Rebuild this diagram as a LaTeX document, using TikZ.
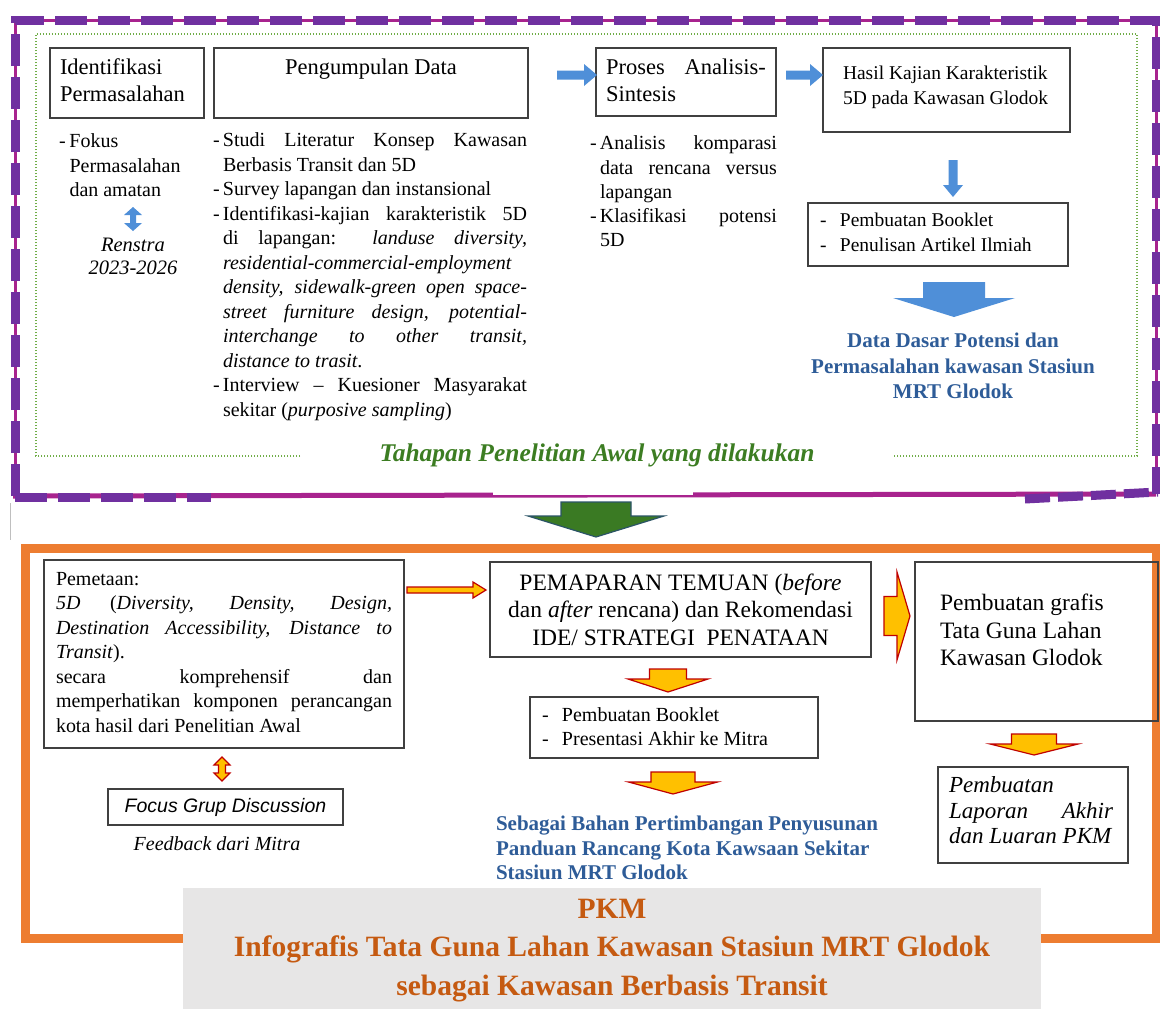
\documentclass[tikz,border=0pt]{standalone}
\usepackage{fontspec}
\setmainfont{Liberation Serif}
\setsansfont{Liberation Sans}
\definecolor{purp}{HTML}{7030A0}
\definecolor{magn}{HTML}{A8238E}
\definecolor{grn}{HTML}{70AD47}
\definecolor{ttl}{HTML}{3C7D22}
\definecolor{barr}{HTML}{4F8FD8}
\definecolor{btxt}{HTML}{2E5C98}
\definecolor{garr}{HTML}{3A7A23}
\definecolor{garrb}{HTML}{2B5466}
\definecolor{yel}{HTML}{FFC000}
\definecolor{redb}{HTML}{C00000}
\definecolor{orf}{HTML}{ED7D31}
\definecolor{gbox}{HTML}{E7E6E6}
\definecolor{otxt}{HTML}{C55A11}
\definecolor{bord}{HTML}{404040}
\newlength\hng
\newcommand\FS[2]{\fontsize{#1}{#2}\selectfont}
\newcommand\NS{\spaceskip=0pt\xspaceskip=0pt\relax}
\newcommand\LDJ[1]{\makebox[\hng][l]{-}\makebox[\dimexpr\hsize-\hng\relax][s]{\NS #1}}
\newcommand\LDL[1]{\makebox[\hng][l]{-}#1}
\newcommand\LIJ[1]{\hspace*{\hng}\makebox[\dimexpr\hsize-\hng\relax][s]{\NS #1}}
\newcommand\LIL[1]{\hspace*{\hng}#1}
\newcommand\LJ[1]{\makebox[\hsize][s]{\NS #1}}
% block arrows: style, x1, x2, yc, shaft half, head half, head length
\newcommand\ArrR[7]{\filldraw[#1] ({#2},{#4-#5}) -- ({#3-#7},{#4-#5}) -- ({#3-#7},{#4-#6}) -- ({#3},{#4}) -- ({#3-#7},{#4+#6}) -- ({#3-#7},{#4+#5}) -- ({#2},{#4+#5}) -- cycle;}
% style, xc, y1, y2, shaft half, head half, head length
\newcommand\ArrD[7]{\filldraw[#1] ({#2-#5},{#3}) -- ({#2+#5},{#3}) -- ({#2+#5},{#4-#7}) -- ({#2+#6},{#4-#7}) -- ({#2},{#4}) -- ({#2-#6},{#4-#7}) -- ({#2-#5},{#4-#7}) -- cycle;}
\newcommand\ArrUD[7]{\filldraw[#1] ({#2},{#3}) -- ({#2+#6},{#3+#7}) -- ({#2+#5},{#3+#7}) -- ({#2+#5},{#4-#7}) -- ({#2+#6},{#4-#7}) -- ({#2},{#4}) -- ({#2-#6},{#4-#7}) -- ({#2-#5},{#4-#7}) -- ({#2-#5},{#3+#7}) -- ({#2-#6},{#3+#7}) -- cycle;}
\begin{document}
\begin{tikzpicture}[x=1pt,y=-1pt,
  every node/.style={inner sep=0pt, outer sep=0pt, execute at begin node=\NS},
  box/.style={draw=bord, line width=1.3pt},
  txt/.style={anchor=north west, align=left},
  barrow/.style={fill=barr, draw=none},
  yarrow/.style={fill=yel, draw=redb, line width=1.2pt},
  garrow/.style={fill=garr, draw=garrb, line width=1.2pt}]
\useasboundingbox (0,0) rectangle (1160,1009);
\fill[white] (0,0) rectangle (1160,1009);

% ---------- top frame ----------
\draw[magn, line width=3] (15,20) -- (1156,20) -- (1156,494);
\draw[magn, line width=3] (15,20) -- (15,496);
\draw[magn, line width=5] (13,496) -- (1156,494);
\draw[purp, line width=9, dash pattern=on 32 off 11] (15,496) -- (15,20) -- (1156,20) -- (1156,494);
\draw[purp, line width=9, dash pattern=on 32 off 11] (15,497) -- (211,497);
\draw[purp, line width=9, dash pattern=on 25 off 8] (1025,499) -- (1158,492);
\fill[white] (493,481) rectangle (693,495);
\draw[gray!50, line width=1] (10,503) -- (10,540);

\draw[grn, line width=1.3, dash pattern=on 1.3 off 1.7] (300,456) -- (36,456) -- (36,34) -- (1137,34) -- (1137,456) -- (893,456);
\node[font=\FS{25.5}{30}\bfseries\itshape, text=ttl] (title) at (597,455) {Tahapan Penelitian Awal yang dilakukan};

% boxes top
\node[box, minimum width=154, minimum height=70] (b1) at (127,83) {};
\node[box, minimum width=314, minimum height=70] (b2) at (371,83) {};
\node[box, minimum width=180, minimum height=68] (b3) at (686,82) {};
\node[box, minimum width=247, minimum height=84] (b4) at (946.5,90) {};
\node[box, minimum width=260, minimum height=63] (b5) at (938,234.5) {};

\node[txt, font=\FS{22.5}{27}] (t1) at (60,59) {Identifikasi\\Permasalahan};
\node[anchor=north, font=\FS{22.5}{27}] (t2) at (371,59) {Pengumpulan Data};
\node[txt, text width=160, font=\FS{22.5}{27}] (t3) at (606,59) {\LJ{Proses Analisis-}\\Sintesis};
\node[txt, font=\FS{19.5}{25}] (t4) at (843,66) {Hasil Kajian Karakteristik\\5D pada Kawasan Glodok};
\node[txt, font=\FS{19.5}{25}] (t5) at (820,213) {\makebox[20pt][l]{-}Pembuatan Booklet\\\makebox[20pt][l]{-}Penulisan Artikel Ilmiah};

\node[txt, text width=140, font=\FS{20}{24.5}] (fokus) at (59,134) {\setlength\hng{10.5pt}\LDL{Fokus}\\\LIL{Permasalahan}\\\LIL{dan amatan}};
\node[anchor=north, align=center, font=\FS{20.5}{23.5}\itshape] (renstra) at (133,238) {Renstra\\2023-2026};

\node[txt, text width=314, font=\FS{20}{24.5}] (mid) at (213,133) {\setlength\hng{10pt}%
\LDJ{Studi Literatur Konsep Kawasan}\\
\LIL{Berbasis Transit dan 5D}\\
\LDL{Survey lapangan dan instansional}\\
\LDJ{Identifikasi-kajian karakteristik 5D}\\
\LIJ{di lapangan: \textit{landuse diversity,}}\\
\LIJ{\textit{residential-commercial-employment}}\\
\LIJ{\textit{density, sidewalk-green open space-}}\\
\LIJ{\textit{street furniture design, potential-}}\\
\LIJ{\textit{interchange to other transit,}}\\
\LIL{\textit{distance to trasit}.}\\
\LDJ{Interview – Kuesioner Masyarakat}\\
\LIL{sekitar (\textit{purposive sampling})}};

\node[txt, text width=187, font=\FS{20}{24.25}] (rt) at (590,136) {\setlength\hng{10pt}%
\LDJ{Analisis komparasi}\\
\LIJ{data rencana versus}\\
\LIL{lapangan}\\
\LDJ{Klasifikasi potensi}\\
\LIL{5D}};

\node[anchor=north, align=center, font=\FS{21}{25.5}\bfseries, text=btxt] (dd) at (953,333) {Data Dasar Potensi dan\\Permasalahan kawasan Stasiun\\MRT Glodok};

% blue arrows
\ArrR{barrow}{557}{597}{75}{4.5}{11}{13}
\ArrR{barrow}{786}{823}{75}{4.5}{11}{13}
\ArrD{barrow}{953}{160}{197}{4.5}{10}{12}
\ArrUD{barrow}{133}{207}{231}{3}{9}{8}
\ArrD{barrow}{954}{282}{317}{31}{61}{19}

% green arrow
\ArrD{garrow}{596}{502}{537}{35}{68}{21}

% ---------- bottom frame ----------
\draw[orf, line width=9] (25,548) rectangle (1156,938);

\node[box, minimum width=360, minimum height=188] (p1) at (224,654) {};
\node[box, minimum width=381, minimum height=95, align=center, font=\FS{23.5}{27.5}] (p2) at (680.5,609.5) {PEMAPARAN TEMUAN (\textit{before}\\dan \textit{after} rencana) dan Rekomendasi\\IDE/ STRATEGI~~PENATAAN};
\node[box, minimum width=243, minimum height=159] (p3) at (1036.5,641.5) {};
\node[box, minimum width=288, minimum height=61] (p4) at (674,727.5) {};
\node[box, minimum width=190, minimum height=96] (p5) at (1033,815) {};
\node[box, minimum width=235, minimum height=36, font=\FS{19.5}{23}\sffamily\itshape] (p6) at (225.5,807) {Focus Grup Discussion};

\node[txt, text width=336, font=\FS{20}{24.5}] (pem) at (56,572) {%
Pemetaan:\\
\LJ{\textit{5D} (\textit{Diversity, Density, Design,}}\\
\LJ{\textit{Destination Accessibility, Distance to}}\\
\textit{Transit}).\\
\LJ{secara komprehensif dan}\\
\LJ{memperhatikan komponen perancangan}\\
kota hasil dari Penelitian Awal};

\node[txt, font=\FS{23.5}{27.5}] (graf) at (940,594) {Pembuatan grafis\\Tata Guna Lahan\\Kawasan Glodok};
\node[txt, font=\FS{20}{23.5}] (bk2) at (542,708) {\makebox[20pt][l]{-}Pembuatan Booklet\\\makebox[20pt][l]{-}Presentasi Akhir ke Mitra};
\node[txt, font=\FS{21}{24.5}\bfseries, text=btxt] (seb) at (496,816) {Sebagai Bahan Pertimbangan Penyusunan\\Panduan Rancang Kota Kawsaan Sekitar\\Stasiun MRT Glodok};
\node[txt, text width=170, font=\FS{23}{25.5}\itshape] (lap) at (949,777) {Pembuatan\\\makebox[164pt][s]{\NS Laporan Akhir}\\dan Luaran PKM};
\node[font=\FS{20}{24}\itshape] (fb) at (217,844) {Feedback dari Mitra};

% yellow arrows
\ArrR{yarrow}{407}{486}{590}{3}{8}{13}
\ArrR{yarrow}{884}{910}{616}{19.5}{44}{13}
\ArrD{yarrow}{668}{669}{692}{18.5}{40}{13}
\ArrD{yarrow}{673}{772}{794}{22}{44.5}{12}
\ArrD{yarrow}{1034}{734}{755}{22.5}{44}{11}
\ArrUD{yarrow}{222}{757}{781}{3.5}{8}{8}

% PKM box
\node[fill=gbox, minimum width=858, minimum height=121, anchor=north west] (pkm) at (183,888) {};
\node[anchor=north, align=center, font=\FS{29.5}{38.5}\bfseries, text=otxt] (pkmt) at (612,899) {PKM\\Infografis Tata Guna Lahan Kawasan Stasiun MRT Glodok\\sebagai Kawasan Berbasis Transit};
\end{tikzpicture}
\end{document}
